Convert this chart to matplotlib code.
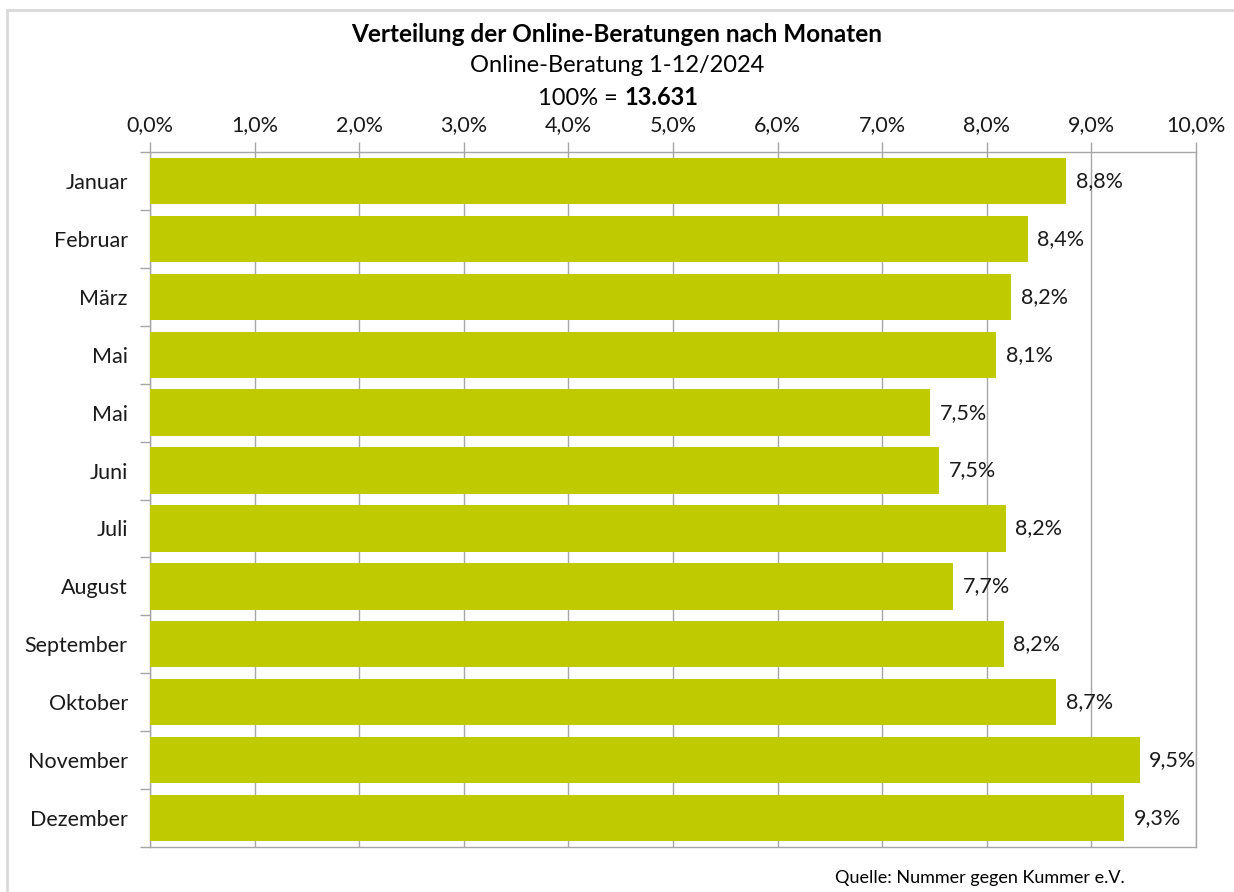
import matplotlib.pyplot as plt
import numpy as np
from matplotlib.patches import Rectangle
from matplotlib.ticker import FixedLocator

plt.rcParams['font.family'] = ['Lato', 'DejaVu Sans']

months = ['Januar', 'Februar', 'März', 'Mai', 'Mai', 'Juni', 'Juli',
          'August', 'September', 'Oktober', 'November', 'Dezember']
shares = [8.76, 8.39, 8.23, 8.09, 7.46, 7.54, 8.18, 7.68, 8.16, 8.66, 9.46, 9.31]
xticks = np.arange(0, 11, 1)

bar_color = '#BFCA00'
grid_color = '#A6A6A6'
txt_color = '#1a1a1a'

fig = plt.figure(figsize=(12.34, 8.92), dpi=100)
ax = fig.add_axes([150 / 1234, 1 - 847 / 892, 1046 / 1234, 695 / 892])

y = np.arange(len(months))
ax.barh(y, shares, height=0.8, color=bar_color, zorder=3)
for yi, v in zip(y, shares):
    ax.annotate(f'{v:.1f}%'.replace('.', ','), (v, yi), xytext=(7, 0),
                textcoords='offset points', va='center', ha='left',
                fontsize=15.5, color=txt_color, zorder=4)

ax.set_xlim(0, 10)
ax.set_ylim(len(months) - 0.5, -0.5)
ax.xaxis.tick_top()
ax.set_xticks(xticks)
ax.set_xticklabels([f'{t:.1f}%'.replace('.', ',') for t in xticks])
ax.set_yticks(y)
ax.set_yticklabels(months)
ax.yaxis.set_minor_locator(FixedLocator(np.arange(-0.5, len(months), 1)))
ax.tick_params(axis='y', which='major', length=0, pad=16, labelsize=15.5)
ax.tick_params(axis='y', which='minor', length=7, color=grid_color, width=1)
ax.tick_params(axis='x', length=7, color=grid_color, width=1, pad=5,
               labelsize=15.5)
for lbl in ax.get_xticklabels() + ax.get_yticklabels():
    lbl.set_color(txt_color)

ax.grid(axis='x', color=grid_color, lw=1, zorder=0)
for s in ax.spines.values():
    s.set_color(grid_color)
    s.set_linewidth(1)

fig.text(0.5, 1 - 35 / 892, 'Verteilung der Online-Beratungen nach Monaten',
         ha='center', va='center', fontsize=17.5, fontweight='bold')
fig.text(0.5, 1 - 66 / 892, 'Online-Beratung 1-12/2024',
         ha='center', va='center', fontsize=17)
# "100% = " normal, number in bold, sharing one baseline
fig.text(624 / 1234, 1 - 105 / 892, '100% = ', ha='right', va='baseline',
         fontsize=17)
fig.text(624 / 1234, 1 - 105 / 892, '13.631', ha='left', va='baseline',
         fontsize=17, fontweight='bold')
fig.text(1125 / 1234, 1 - 878 / 892, 'Quelle: Nummer gegen Kummer e.V.',
         ha='right', va='center', fontsize=13)

fig.patches.append(Rectangle((7 / 1234, -0.02), 1.0, 1 - 10 / 892 + 0.02,
                             transform=fig.transFigure, fill=False,
                             edgecolor='#D9D9D9', lw=2))

fig.savefig('out.png', dpi=100)
